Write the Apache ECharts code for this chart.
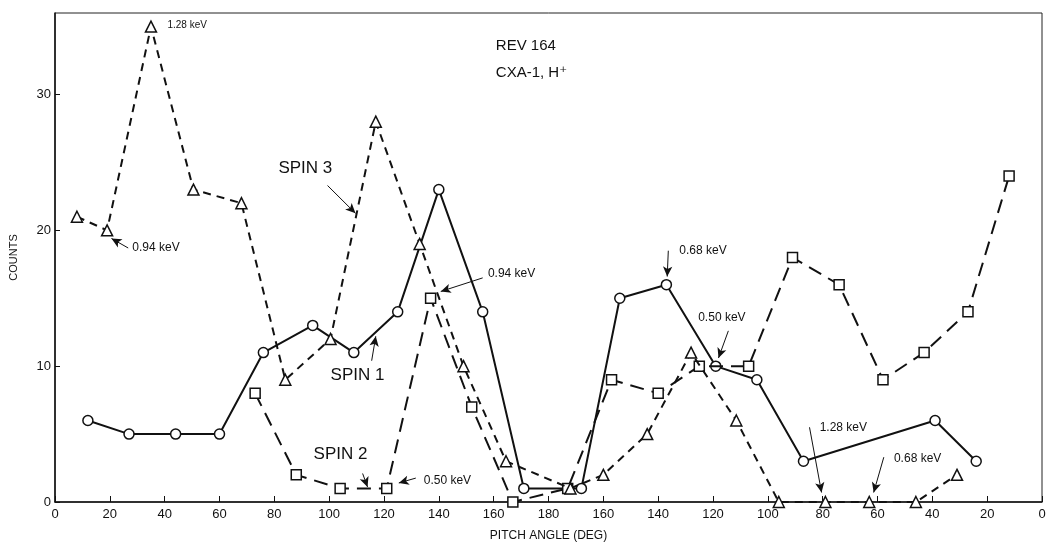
<!DOCTYPE html>
<html>
<head>
<meta charset="utf-8">
<style>
html,body{margin:0;padding:0;background:#fff;}
#c{width:1050px;height:553px;}
</style>
<script src="https://cdn.jsdelivr.net/npm/echarts@6/dist/echarts.min.js"></script>
</head>
<body>
<div id="c"></div>
<script>
// Folded pitch-angle axis: position 0..180 = pitch angle rising, 180..360 = falling back to 0
const xTicks = [0,20,40,60,80,100,120,140,160,180,200,220,240,260,280,300,320,340,360];
const yTicks = [0,10,20,30];

const spin1X = [12,27,44,60,76,94,109,125,140,156,171,192,206,223,241,256,273,321,336];
const spin1Y = [6,5,5,5,11,13,11,14,23,14,1,1,15,16,10,9,3,6,3];

const spin2X = [73,88,104,121,137,152,167,187,203,220,235,253,269,286,302,317,333,348];
const spin2Y = [8,2,1,1,15,7,0,1,9,8,10,10,18,16,9,11,14,24];

const spin3X = [8,19,35,50.5,68,84,100.5,117,133,149,164.5,188,200,216,232,248.5,264,281,297,314,329];
const spin3Y = [21,20,35,23,22,9,12,28,19,10,3,1,2,5,11,6,0,0,0,0,2];

// annotation texts: [text, x, y, fontSize]
const labelTexts = ['1.28 keV','0.94 keV','SPIN 3','REV 164','CXA-1, H\u207A','0.94 keV','SPIN 1','SPIN 2','0.50 keV','0.68 keV','0.50 keV','1.28 keV','0.68 keV'];
const labelX = [41,28.2,81.5,160.8,160.8,157.9,100.5,94.3,134.5,227.7,234.6,278.9,306];
const labelY = [35.1,18.7,24.6,33.6,31.6,16.8,9.3,3.5,1.6,18.5,13.6,5.5,3.2];
const labelSize = [10,12,17,15,15,12,17,17,12,12,12,12,12];

// arrows: from (x1,y1) to (x2,y2)
const arrowX1 = [26.7,99.4,156,115.5,112.2,131.6,223.7,245.6,275.2,302.3];
const arrowY1 = [18.7,23.3,16.5,10.4,2.1,1.76,18.5,12.6,5.5,3.3];
const arrowX2 = [20.6,109.6,140.7,117,114,125.4,223.3,242,279.6,298.6];
const arrowY2 = [19.4,21.25,15.5,12.2,1.1,1.4,16.6,10.6,0.7,0.7];

const zip = (a,b)=>a.map((v,i)=>[v,b[i]]);
const FONT = '"Liberation Sans", "DejaVu Sans", sans-serif';

const chart = echarts.init(document.getElementById('c'));
chart.setOption({
  animation:false,
  backgroundColor:'#ffffff',
  grid:{left:55,right:8,top:13,bottom:51,show:true,borderColor:'#222',borderWidth:1,backgroundColor:'transparent'},
  xAxis:{
    type:'value',min:0,max:360,interval:20,
    name:'PITCH ANGLE (DEG)',nameLocation:'middle',nameGap:28,
    nameTextStyle:{fontFamily:FONT,fontSize:12,color:'#111'},
    axisLine:{lineStyle:{color:'#111',width:1.5}},
    axisTick:{inside:true,length:6,lineStyle:{color:'#111'}},
    axisLabel:{fontFamily:FONT,fontSize:13,color:'#111',margin:6,
      formatter:v=> (v<=180? v : 360-v).toString()},
    splitLine:{show:false}
  },
  yAxis:{
    type:'value',min:0,max:36,interval:10,
    name:'COUNTS',nameLocation:'middle',nameGap:36,nameRotate:90,
    nameTextStyle:{fontFamily:FONT,fontSize:11,color:'#111'},
    axisLine:{lineStyle:{color:'#111',width:1.5}},
    axisTick:{inside:true,length:5,lineStyle:{color:'#111'}},
    axisLabel:{fontFamily:FONT,fontSize:13,color:'#111',margin:4,showMaxLabel:false},
    splitLine:{show:false}
  },
  series:[
    {name:'Spin 1',type:'line',data:zip(spin1X,spin1Y),symbol:'circle',symbolSize:10,
     lineStyle:{color:'#111',width:2,type:'solid'},
     itemStyle:{color:'#fff',borderColor:'#111',borderWidth:1.5},z:3},
    {name:'Spin 2',type:'line',data:zip(spin2X,spin2Y),symbol:'rect',symbolSize:10,
     lineStyle:{color:'#111',width:2,type:[14,8]},
     itemStyle:{color:'#fff',borderColor:'#111',borderWidth:1.5},z:4},
    {name:'Spin 3',type:'line',data:zip(spin3X,spin3Y),symbol:'triangle',symbolSize:11,
     lineStyle:{color:'#111',width:2,type:[8,6]},
     itemStyle:{color:'#fff',borderColor:'#111',borderWidth:1.5},z:5},
    {name:'notes',type:'line',data:[],z:6,
     markLine:{silent:true,symbol:['none','arrow'],symbolSize:[7,10],
       lineStyle:{color:'#111',width:1,type:'solid'},label:{show:false},
       data:arrowX1.map((x,i)=>[{coord:[x,arrowY1[i]]},{coord:[arrowX2[i],arrowY2[i]]}])},
     markPoint:{silent:true,symbol:'circle',symbolSize:0,
       data:labelTexts.map((t,i)=>({coord:[labelX[i],labelY[i]],value:t,
         label:{show:true,formatter:t,position:'right',distance:0,
           fontFamily:FONT,fontSize:labelSize[i],color:'#111'}}))}
    }
  ]
});
</script>
</body>
</html>
